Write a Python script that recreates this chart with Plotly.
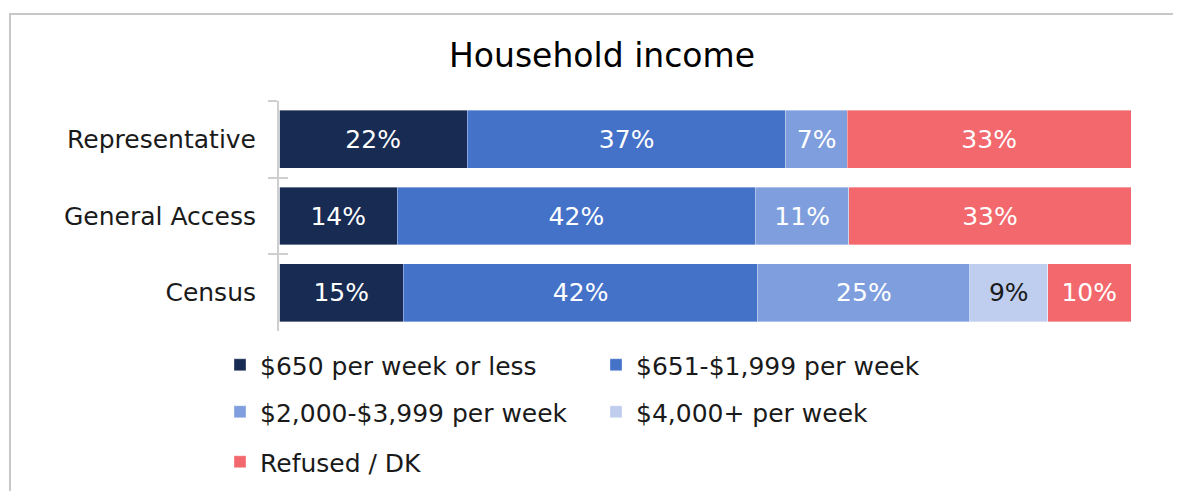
import plotly.graph_objects as go

categories = ["Representative", "General Access", "Census"]
series_names = ["$650 per week or less", "$651-$1,999 per week",
                "$2,000-$3,999 per week", "$4,000+ per week", "Refused / DK"]
values = [
    [22.1, 13.9, 14.6],
    [37.4, 42.0, 41.6],
    [7.2, 11.0, 24.9],
    [None, None, 9.1],
    [33.3, 33.1, 9.8],
]
colors = ["#182B52", "#4472C9", "#7F9EDD", "#BFCEEE", "#F2686D"]
text_colors = ["white", "white", "white", "#1a1a1a", "white"]
legend_ids = ["legend", "legend", "legend2", "legend2", "legend3"]

FONT = "DejaVu Sans"
FS = 25

# page is offset by the 8px body margin
OFF = 8
W, H = 1181, 491
L, R, T, B = 279 - OFF, W - (1131 - OFF), 101 - OFF, H - (331 - OFF)
pw, ph = W - L - R, H - T - B


def px2x(px):
    return (px - OFF - L) / pw


def py2y(py):
    return (H - B - (py - OFF)) / ph


fig = go.Figure()
for name, vals, col, tcol, lg in zip(series_names, values, colors, text_colors, legend_ids):
    fig.add_trace(go.Bar(
        y=categories, x=vals, name=name, orientation="h",
        marker=dict(color=col, line=dict(color="rgba(255,255,255,0.6)", width=0.6)),
        texttemplate="%{x:.0f}%", textposition="inside", insidetextanchor="middle",
        textfont=dict(color=tcol, size=FS, family=FONT),
        legend=lg, hoverinfo="skip",
    ))

# invisible trace to carry the inner half of the crossing tick marks
fig.add_trace(go.Bar(y=categories, x=[0, 0, 0], orientation="h", yaxis="y2",
                     showlegend=False, hoverinfo="skip",
                     marker=dict(color="rgba(0,0,0,0)")))

leg_common = dict(orientation="h", xanchor="left", yanchor="middle",
                  font=dict(size=FS, family=FONT, color="#1a1a1a"),
                  entrywidth=331, entrywidthmode="pixels",
                  bgcolor="rgba(0,0,0,0)", traceorder="normal")

AX = "#CFCFCF"
fig.update_layout(
    width=W, height=H,
    margin=dict(l=L, r=R, t=T, b=B),
    barmode="stack", bargap=0.245,
    plot_bgcolor="white", paper_bgcolor="white",
    font=dict(family=FONT, color="#1a1a1a"),
    title=dict(text="Household income", x=(602 - OFF) / W, xanchor="center",
               y=1 - (55 - OFF) / H, yanchor="middle", yref="container",
               font=dict(size=33, family=FONT, color="black")),
    xaxis=dict(range=[0, 100], visible=False, fixedrange=True),
    yaxis=dict(categoryorder="array", categoryarray=categories, autorange="reversed",
               showline=True, linecolor=AX, linewidth=2,
               ticks="outside", tickson="boundaries", ticklen=9, tickwidth=2,
               tickcolor=AX, ticklabelstandoff=16,
               tickfont=dict(size=FS, family=FONT, color="#1a1a1a"),
               showgrid=False),
    yaxis2=dict(overlaying="y", side="left", categoryorder="array",
                categoryarray=categories, autorange="reversed",
                showline=False, ticks="inside", tickson="boundaries", ticklen=9,
                tickwidth=2, tickcolor=AX, showticklabels=False, showgrid=False),
    legend=dict(x=px2x(220), y=py2y(365), **leg_common),
    legend2=dict(x=px2x(220), y=py2y(412), **leg_common),
    legend3=dict(x=px2x(220), y=py2y(462), **leg_common),
    showlegend=True,
)

# figure border
fig.add_shape(type="rect", xref="paper", yref="paper",
              x0=px2x(10), x1=px2x(1200), y0=py2y(520), y1=py2y(14),
              line=dict(color="#C8C8C8", width=2), fillcolor="rgba(0,0,0,0)",
              layer="below")

fig.write_html("out.html")
